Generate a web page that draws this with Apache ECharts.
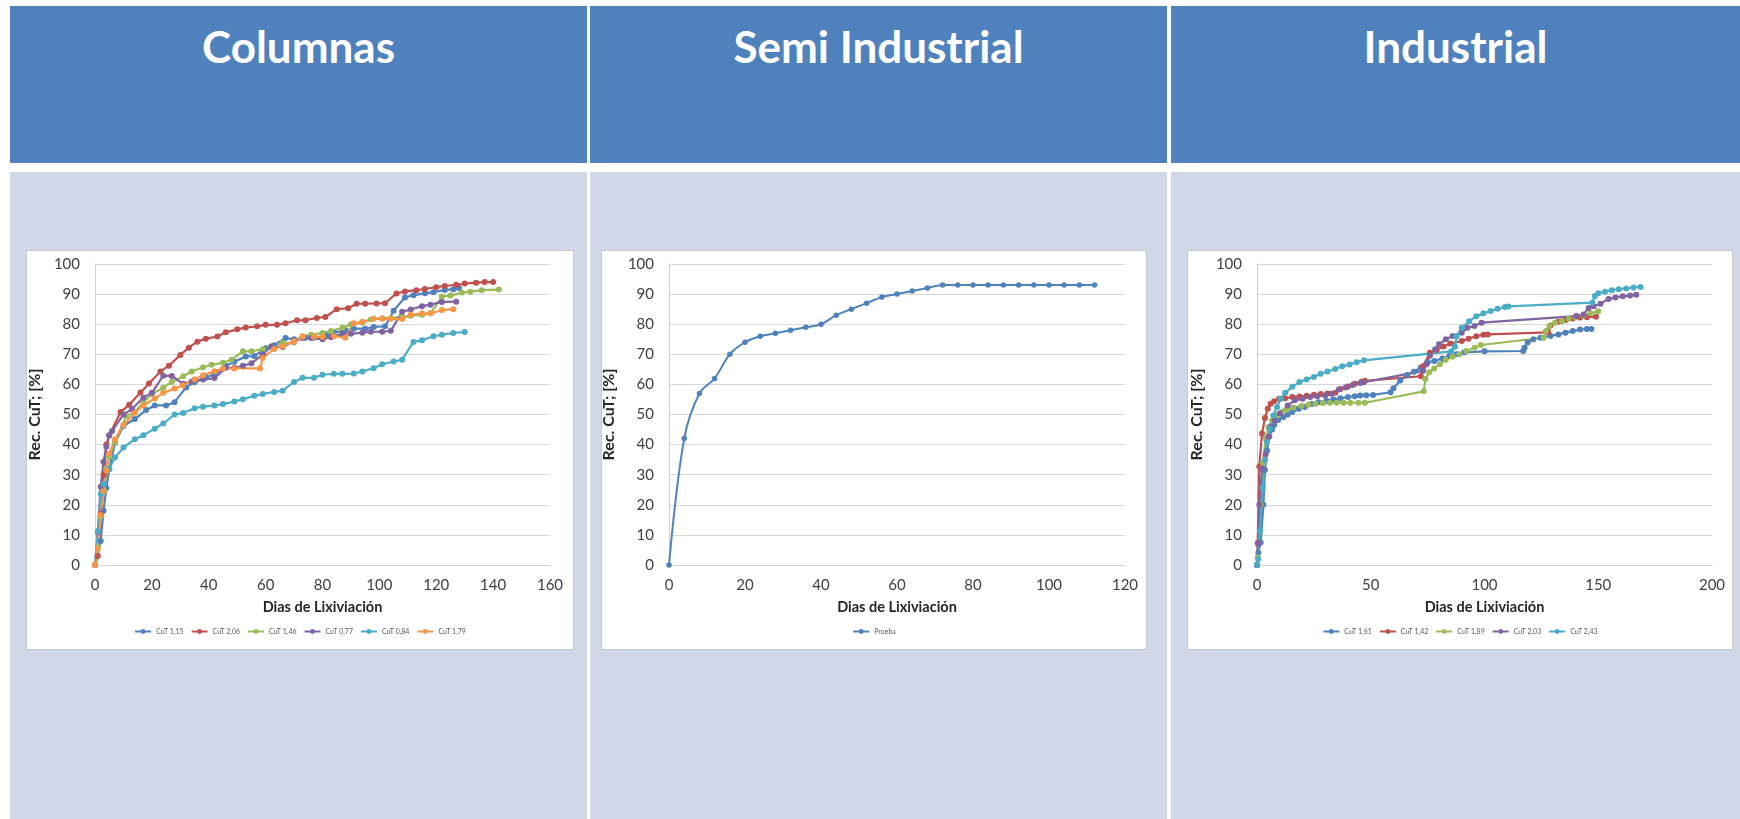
<!DOCTYPE html>
<html>
<head>
<meta charset="utf-8">
<script src="https://cdn.jsdelivr.net/npm/echarts@6/dist/echarts.min.js"></script>
<style>
  html, body { margin: 0; padding: 0; background: #ffffff; }
  body { width: 1740px; height: 819px; position: relative; overflow: hidden; font-family: Lato, "Open Sans", sans-serif; }
  .head { position: absolute; top: 6px; height: 157px; background: #4F81BD; }
  .head span { position: absolute; left: 0; right: 0; top: 14px; text-align: center; color: #ffffff;
               font-family: Lato, sans-serif; font-weight: bold; font-size: 44px; line-height: 1.2; }
  .band { position: absolute; top: 172px; bottom: 0; background: #D0D8E8; }
  .box { position: absolute; top: 250px; height: 400px; background: #ffffff; border: 1px solid #c9c9c9; box-sizing: border-box; }
</style>
</head>
<body>
<div class="head" style="left:10px; width:577px;"><span>Columnas</span></div>
<div class="head" style="left:590px; width:577px;"><span>Semi Industrial</span></div>
<div class="head" style="left:1171px; width:569px;"><span>Industrial</span></div>
<div class="band" style="left:10px; width:577px;"></div>
<div class="band" style="left:590px; width:577px;"></div>
<div class="band" style="left:1171px; width:569px;"></div>
<div class="box" id="c1" style="left:26px; width:548px;"></div>
<div class="box" id="c2" style="left:601px; width:546px;"></div>
<div class="box" id="c3" style="left:1187px; width:546px;"></div>
<script>
// ---- Columnas: [día, recuperación %] ----
const colNames = ['CuT 1,15', 'CuT 2,06', 'CuT 1,46', 'CuT 0,77', 'CuT 0,84', 'CuT 1,79'];
const colCuT115 = [[0,0],[2,8],[3,18],[4,25.6],[5,31.8],[7,40.5],[10,46.2],[14,48.5],[18,51.5],[21,53],[25,53],[28,54.1],[32,59],[35,60.7],[39,62.3],[42,63.4],[46,66.2],[49,67.5],[53,69.3],[56,69.4],[60,72],[63,73],[67,75.4],[70,75],[74,75.5],[77,75.5],[81,76.3],[84,77.2],[88,78],[91,78.5],[95,78.5],[98,79.1],[102,79.3],[105,84.5],[109,88.9],[112,89.6],[116,90.3],[119,90.6],[123,91.4],[126,91.6],[128,92]];
const colCuT206 = [[0,0],[1,3],[2,17],[3,30],[4,40],[5,43],[9,50.8],[12,53.2],[16,57.3],[19,60.3],[23,64.3],[26,66.2],[30,69.8],[33,72.2],[36,74.2],[39,75.2],[43,75.9],[46,77.3],[50,78.3],[53,78.9],[57,79.3],[60,79.8],[64,79.8],[67,80.3],[71,81.3],[74,81.3],[78,82.1],[81,82.4],[85,85],[89,85.3],[92,86.8],[95,86.8],[99,86.9],[102,87],[106,90.2],[109,90.9],[113,91.3],[116,91.7],[120,92.3],[123,92.7],[127,93.1],[130,93.5],[134,93.8],[137,94],[140,94]];
const colCuT146 = [[0,0],[1,6],[2,16],[3,25],[4,32],[5,36],[7,40.6],[11,49.5],[14,50.8],[17,54],[20,56.8],[24,58.9],[27,60.8],[31,62.7],[34,64.3],[38,65.7],[41,66.5],[45,67.2],[48,68.2],[52,71],[55,71],[59,71.7],[62,72.6],[66,73.8],[70,73.9],[73,76],[76,76.5],[80,77.1],[83,77.7],[87,78.8],[90,80],[94,80.5],[97,81.6],[101,82],[104,82],[108,82.5],[111,82.8],[115,83.1],[118,83.6],[122,89.2],[125,89.5],[129,90.5],[132,90.8],[136,91.3],[142,91.5]];
const colCuT077 = [[0,0],[1,11],[2,26],[3,34.3],[4,39.3],[5,43.1],[6,44.5],[10,50],[13,51.8],[17,55.6],[20,57.2],[24,62.9],[27,62.8],[31,60.2],[34,61],[38,61.6],[42,62.1],[46,65.5],[49,65.5],[52,66.2],[55,67],[59,70],[62,72.6],[66,72.4],[70,74.3],[73,75.4],[76,75.4],[80,75],[83,75.7],[87,76.8],[90,76.8],[94,77.2],[97,77.5],[101,77.5],[104,77.8],[108,84.1],[111,84.9],[115,86],[118,86.5],[122,87.4],[127,87.5]];
const colCuT084 = [[0,0],[1,11.3],[2,23.6],[3,27],[5,32],[7,35.7],[10,39],[14,41.8],[17,43.1],[21,45.3],[24,47],[28,50],[31,50.5],[35,52.1],[38,52.6],[42,53],[45,53.5],[49,54.3],[52,55.1],[56,56.2],[59,56.8],[63,57.5],[66,57.9],[70,60.8],[73,62.2],[77,62.2],[80,63.2],[84,63.5],[87,63.5],[91,63.6],[94,64.3],[98,65.4],[101,66.7],[105,67.6],[108,68.2],[112,74.1],[115,74.7],[119,76],[122,76.5],[126,77.1],[130,77.4]];
const colCuT179 = [[0,0],[1,5.5],[2,16.5],[3,24.5],[4,31.4],[5,37],[7,41.7],[10,46.4],[14,50.6],[17,53],[21,55.3],[24,57.2],[28,58.6],[31,59.7],[35,61.6],[38,63],[42,64.4],[45,65.2],[49,65.3],[58,65.3],[59,68.8],[63,71.8],[66,72.7],[70,74.3],[73,75.8],[77,75.8],[80,75.8],[84,76],[88,75.5],[91,80.3],[94,80.8],[98,81.8],[101,81.8],[104,81.8],[108,81.7],[111,83.1],[115,83.6],[118,83.6],[122,84.7],[126,85]];

// ---- Semi Industrial ----
const semiNames = ['Prueba'];
const semiPrueba = [[0,0],[4,42],[8,57],[12,62],[16,70],[20,74],[24,76],[28,77],[32,78],[36,79],[40,80],[44,83],[48,85],[52,87],[56,89],[60,90],[64,91],[68,92],[72,93],[76,93],[80,93],[84,93],[88,93],[92,93],[96,93],[100,93],[104,93],[108,93],[112,93]];

// ---- Industrial ----
const indNames = ['CuT 1,61', 'CuT 1,42', 'CuT 1,89', 'CuT 2,03', 'CuT 2,43'];
const indCuT161 = [[0,0],[0.6,4],[1.6,7.5],[2.8,20],[3.5,31.6],[4.4,38],[5.4,42.7],[6.6,45],[7.5,46.5],[9.3,48.2],[11.6,49.2],[13.5,50],[15.5,50.8],[18.4,51.9],[21,52.5],[24,53.5],[27,54.1],[30.5,54.6],[33.6,55],[36.7,55.4],[40,55.8],[43,56.1],[45.4,56.3],[48,56.4],[51,56.5],[58.7,57.4],[60,58.7],[63,61.3],[66,63.1],[69,64.2],[72,65.6],[75,67.3],[78,67.8],[81.5,68.6],[84.6,69.5],[87.8,70],[91,70.6],[100,71],[117,71.1],[117.6,72.2],[119,73.9],[121.5,75],[124.6,75.5],[129,76.1],[132.5,76.6],[135.6,77.2],[138.8,77.7],[142,78.2],[145,78.4],[147,78.4]];
const indCuT142 = [[0,0],[0.3,7.3],[1,32.7],[2.2,43.7],[3.5,48.8],[4.7,51.9],[6,53.6],[7.5,54.4],[9.7,55.2],[12.4,55.4],[15.5,55.8],[18.7,56],[21.8,56.2],[25,56.6],[28,56.8],[31,57],[34.4,57.2],[36.7,58.5],[40,59.3],[43,60.2],[46,60.9],[47.4,61.2],[72,62.7],[73,66],[76,70.5],[79,71.5],[82,72.6],[85,73.6],[90,74.4],[93,75.2],[96.4,76],[99.5,76.5],[101.4,76.6],[128,77.3],[129,79.6],[132.5,80.8],[135.6,81.4],[138.8,81.9],[142,82.2],[145,82.3],[149,82.5]];
const indCuT189 = [[0,0],[0.3,2.5],[1.5,20],[2.6,34],[3.8,42],[5,45.8],[6.6,48],[8.5,49.7],[10.8,50.8],[13,51.6],[16,52.3],[19.5,52.8],[22.6,53.2],[25.7,53.6],[29,53.8],[32,53.9],[35,53.9],[38,53.9],[41,53.9],[44.6,53.9],[47.4,53.9],[73.3,57.7],[74,61.8],[75.7,64],[77.9,65.3],[80.4,66.7],[83,68.2],[86,69.2],[89,70],[92,71.1],[95.6,72.2],[98.4,73.1],[126,75.5],[127,77.7],[128.5,79.4],[131,80.5],[134,81],[137,81.8],[140,82.3],[143.5,82.9],[146.6,83.6],[150,84.3]];
const indCuT203 = [[0,0],[0.5,7],[1,20],[2.2,32],[3.8,36.8],[5,42.5],[6,45.9],[7.7,48],[10,50.3],[13.5,53],[16.6,54.7],[20,55.2],[23.4,55.8],[26.5,56.1],[30,56.3],[32.8,56.9],[36,58.3],[39,59],[42,59.8],[45.4,60.5],[47,60.7],[73,64.5],[74.4,66.7],[76,69.5],[78.3,71.7],[80,73.3],[83,75],[86,76.1],[90,77.2],[92.5,78.8],[95.6,79.4],[98.7,80.5],[140.3,82.7],[143.5,83.2],[145.8,85.4],[148,86],[151,86.8],[154.5,88.4],[157.6,88.9],[160.8,89.3],[164,89.5],[166.7,89.8]];
const indCuT243 = [[0,0],[0.5,2],[1.3,11.3],[2.5,25.6],[3.5,34.9],[4.4,40.9],[5.7,45.3],[7.2,49.7],[8.8,52.5],[10.4,55.2],[12.4,57.2],[15.5,59.2],[18.7,60.8],[21.8,61.6],[25,62.5],[28,63.5],[31,64.3],[34.4,65.1],[37.5,66],[40.7,66.6],[43.8,67.4],[47,68],[85.4,71],[87,72.5],[87.8,76],[90,78.8],[93.3,81],[96.4,82.6],[99.5,83.6],[102.7,84.4],[105.8,85.1],[109,85.7],[110.5,85.9],[147.4,87.2],[148.5,89.4],[150,90.3],[153,90.8],[156,91.3],[159,91.6],[162.3,91.9],[165.5,92.2],[168.6,92.4]];

// axis ranges and labels
const yTitle = 'Rec. CuT; [%]';
const xTitle = 'Dias de Lixiviación';
const colXMax = 160, colXStep = 20;
const semiXMax = 120, semiXStep = 20;
const indXMax = 200, indXStep = 50;

const palette = ['#4F81BD', '#C0504D', '#9BBB59', '#8064A2', '#4BACC6', '#F79646'];
const FONT = 'Lato, "Open Sans", sans-serif';

function buildOption(names, datasets, xMax, xStep, gridLR, opts) {
  const series = names.map((n, i) => ({
    name: n,
    type: 'line',
    data: datasets[i],
    smooth: opts.smooth || false,
    symbol: 'circle',
    symbolSize: opts.symbolSize,
    lineStyle: { width: opts.lineWidth, color: palette[i] },
    itemStyle: { color: palette[i] },
    emphasis: { disabled: true }
  }));
  return {
    animation: false,
    textStyle: { fontFamily: FONT },
    grid: { left: gridLR[0], right: gridLR[1], top: 13, bottom: 84, containLabel: false, outerBoundsMode: 'none' },
    legend: {
      data: names,
      bottom: 9,
      left: 'center',
      itemWidth: 16,
      itemHeight: 6,
      itemGap: 7,
      textStyle: { fontSize: 7, color: '#595959', fontFamily: FONT }
    },
    xAxis: {
      type: 'value', min: 0, max: xMax, interval: xStep,
      name: xTitle, nameLocation: 'middle', nameGap: 35,
      nameTextStyle: { fontSize: 14.5, fontWeight: 'bold', color: '#262626', fontFamily: FONT },
      axisLine: { show: true, lineStyle: { color: '#d0d0d0', width: 1 } },
      axisTick: { show: false },
      splitLine: { show: false },
      axisLabel: { fontSize: 15, color: '#404040', margin: 13, fontFamily: FONT }
    },
    yAxis: {
      type: 'value', min: 0, max: 100, interval: 10,
      name: yTitle, nameLocation: 'middle', nameGap: 42, nameRotate: 90,
      nameTextStyle: { fontSize: 16, fontWeight: 'bold', color: '#262626', fontFamily: FONT },
      axisLine: { show: true, lineStyle: { color: '#d0d0d0', width: 1 } },
      axisTick: { show: false },
      splitLine: { show: true, lineStyle: { color: '#d9d9d9', width: 1 } },
      axisLabel: { fontSize: 15, color: '#404040', margin: 15, fontFamily: FONT }
    },
    series: series
  };
}

const chartCol = echarts.init(document.getElementById('c1'));
chartCol.setOption(buildOption(colNames,
  [colCuT115, colCuT206, colCuT146, colCuT077, colCuT084, colCuT179],
  colXMax, colXStep, [68, 23], { symbolSize: 6, lineWidth: 2.2 }));

const chartSemi = echarts.init(document.getElementById('c2'));
chartSemi.setOption(buildOption(semiNames, [semiPrueba],
  semiXMax, semiXStep, [67, 21], { symbolSize: 5.5, lineWidth: 2, smooth: 0.35 }));

const chartInd = echarts.init(document.getElementById('c3'));
chartInd.setOption(buildOption(indNames,
  [indCuT161, indCuT142, indCuT189, indCuT203, indCuT243],
  indXMax, indXStep, [69, 20], { symbolSize: 6, lineWidth: 2.2 }));
</script>
</body>
</html>
